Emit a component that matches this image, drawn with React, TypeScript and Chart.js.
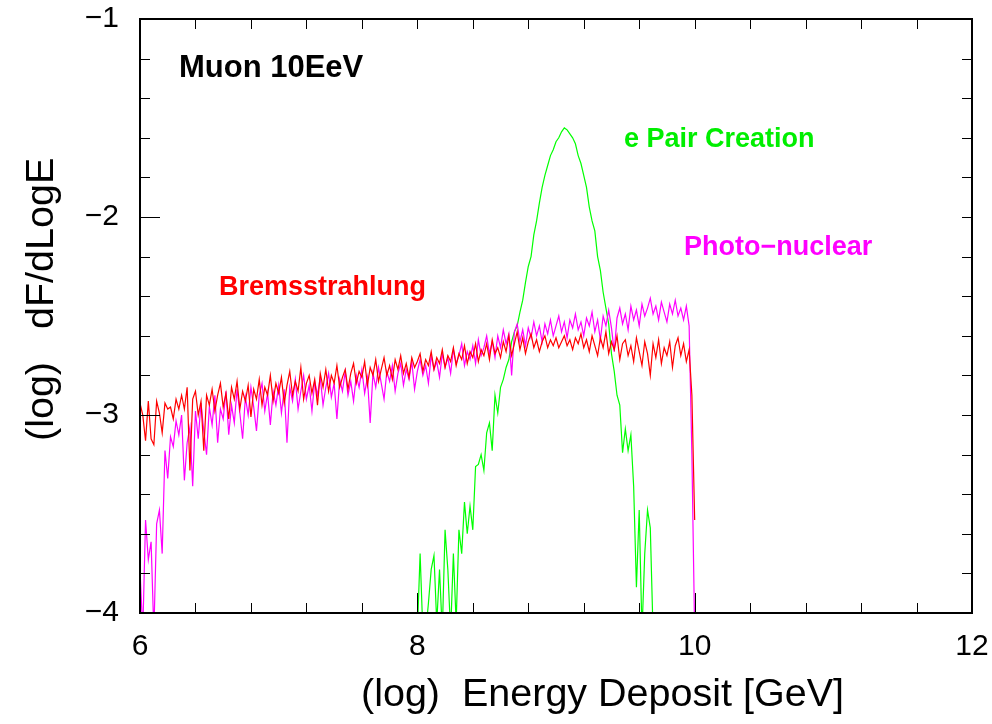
import { useEffect, useRef } from "react";
import { Chart, registerables } from "chart.js";

Chart.register(...registerables);

// Histogram binning in log10(E / GeV)
const LOG_E_START = 6.0;
const PAIR_LOG_E_START = 8.0;
const BIN_WIDTH = 0.02;

// Bremsstrahlung, log10(dF/dLogE), bins from 6.00 upward
const bremsY = [
  -2.94, -3.00, -3.13, -2.93, -3.12, -3.15, -2.93, -2.99, -3.09, -2.94,
  -2.97, -2.96, -3.02, -2.92, -2.97, -2.90, -2.97, -2.86, -3.28, -2.92,
  -2.88, -3.00, -2.93, -3.18, -2.90, -2.95, -2.87, -2.98, -2.90, -2.84,
  -2.96, -2.89, -3.02, -2.86, -2.92, -2.83, -2.97, -2.88, -2.93, -2.85,
  -3.01, -2.87, -2.92, -2.82, -2.95, -2.86, -2.90, -2.80, -2.93, -2.84,
  -2.89, -2.81, -2.94, -2.85, -2.78, -2.90, -2.83, -2.88, -2.76, -2.92,
  -2.84, -2.80, -2.89, -2.82, -2.95, -2.79, -2.86, -2.77, -2.88, -2.80,
  -2.84, -2.75, -2.86, -2.81, -2.77, -2.87, -2.79, -2.74, -2.84, -2.78,
  -2.81, -2.73, -2.85, -2.76, -2.80, -2.72, -2.83, -2.77, -2.71, -2.80,
  -2.75, -2.82, -2.72, -2.77, -2.70, -2.79, -2.74, -2.81, -2.71, -2.76,
  -2.73, -2.69, -2.78, -2.72, -2.75, -2.68, -2.77, -2.71, -2.74, -2.67,
  -2.76, -2.70, -2.73, -2.66, -2.75, -2.69, -2.72, -2.65, -2.74, -2.68,
  -2.71, -2.64, -2.73, -2.67, -2.70, -2.64, -2.72, -2.62, -2.69, -2.66,
  -2.71, -2.63, -2.68, -2.60, -2.70, -2.64, -2.58, -2.67, -2.61, -2.69,
  -2.63, -2.59, -2.66, -2.62, -2.68, -2.63, -2.60, -2.66, -2.62, -2.65,
  -2.61, -2.66, -2.63, -2.60, -2.65, -2.62, -2.67, -2.61, -2.64, -2.59,
  -2.66, -2.62, -2.68, -2.60, -2.65, -2.70, -2.61, -2.66, -2.58, -2.69,
  -2.63, -2.67, -2.60, -2.72, -2.64, -2.62, -2.70, -2.65, -2.73, -2.61,
  -2.68, -2.75, -2.63, -2.69, -2.80, -2.64, -2.71, -2.62, -2.74, -2.66,
  -2.70, -2.63, -2.76, -2.65, -2.61, -2.70, -2.64, -2.73, -2.67, -2.90,
  -3.53,
];

// Photo-nuclear, bins from 6.00 upward
const photoY = [
  -3.78, -4.10, -3.53, -3.73, -3.64, -4.10, -3.55, -3.48, -3.70, -3.18,
  -3.32, -3.11, -3.16, -3.03, -3.10, -3.00, -3.33, -3.14, -3.06, -3.36,
  -2.98, -3.12, -2.94, -3.08, -3.20, -2.96, -3.05, -2.90, -3.14, -2.97,
  -3.02, -2.88, -3.10, -2.95, -3.04, -2.87, -2.99, -3.12, -2.91, -3.00,
  -2.86, -2.96, -3.08, -2.90, -2.84, -2.98, -2.89, -3.05, -2.88, -2.95,
  -2.85, -2.99, -2.87, -3.14, -2.86, -2.93, -2.82, -2.97, -2.88, -2.80,
  -2.92, -2.85, -2.98, -2.83, -2.90, -2.81, -2.95, -2.86, -2.79, -2.91,
  -2.84, -3.02, -2.82, -2.88, -2.78, -2.90, -2.83, -2.93, -2.80, -2.86,
  -2.77, -2.89, -2.81, -3.04, -2.79, -2.86, -2.76, -2.84, -2.92, -2.78,
  -2.83, -2.75, -2.88, -2.79, -2.74, -2.85, -2.77, -2.82, -2.73, -2.87,
  -2.78, -2.72, -2.80, -2.75, -2.84, -2.70, -2.77, -2.73, -2.81, -2.69,
  -2.76, -2.71, -2.79, -2.67, -2.74, -2.70, -2.64, -2.75, -2.68, -2.72,
  -2.65, -2.74, -2.62, -2.70, -2.66, -2.60, -2.69, -2.63, -2.71, -2.60,
  -2.66, -2.57, -2.64, -2.59, -2.80, -2.58, -2.54, -2.63, -2.57, -2.65,
  -2.56, -2.61, -2.53, -2.60, -2.55, -2.63, -2.54, -2.59, -2.52, -2.60,
  -2.55, -2.50, -2.58, -2.53, -2.61, -2.52, -2.56, -2.49, -2.57, -2.53,
  -2.60, -2.51, -2.55, -2.48, -2.58, -2.52, -2.62, -2.50, -2.55, -2.47,
  -2.56, -2.68, -2.51, -2.46, -2.54, -2.49, -2.57, -2.45, -2.52, -2.47,
  -2.55, -2.44, -2.50, -2.46, -2.41, -2.49, -2.45, -2.52, -2.43, -2.48,
  -2.53, -2.44, -2.49, -2.42, -2.50, -2.46, -2.52, -2.45, -2.55, -3.20,
  -4.10,
];

// e+e- pair creation, bins from 8.00 upward
const pairY = [
  -4.10, -3.70, -4.10, -4.10, -3.95, -3.78, -3.71, -4.05, -3.78, -4.10,
  -3.58, -3.78, -4.10, -3.70, -4.05, -3.58, -3.70, -3.44, -3.60, -3.46,
  -3.58, -3.26, -3.25, -3.20, -3.28, -3.09, -3.04, -3.18, -2.90, -2.99,
  -2.86, -2.82, -2.76, -2.72, -2.63, -2.58, -2.55, -2.48, -2.42, -2.33,
  -2.25, -2.20, -2.09, -2.02, -1.93, -1.85, -1.79, -1.74, -1.69, -1.66,
  -1.62, -1.60, -1.57, -1.55, -1.56, -1.58, -1.60, -1.63, -1.69, -1.73,
  -1.79, -1.85, -1.95, -2.02, -2.07, -2.20, -2.27, -2.38, -2.46, -2.54,
  -2.69, -2.78, -2.90, -2.95, -3.19, -3.07, -3.18, -3.10, -3.36, -3.87,
  -3.48, -4.10, -3.70, -3.48, -3.57, -4.10,
];

const xTicks = [6, 8, 10, 12];
const yTicks = [-1, -2, -3, -4];
const X_MINOR = 0.4;
const Y_MINOR = 0.2;

const FONT = '"Liberation Sans", Arial, Helvetica, sans-serif';

const toPoints = (start: number, ys: number[]) =>
  ys.map((y, i) => ({ x: +(start + i * BIN_WIDTH).toFixed(3), y }));

const fmt = (v: number) => (v < 0 ? "\u2212" + Math.abs(v) : String(v));

type Note = { text: string; color: string; x: number; y: number; size: number };
const notes: Note[] = [
  { text: "Muon 10EeV", color: "#000000", x: 6.281, y: -1.293, size: 31 },
  { text: "e Pair Creation", color: "#00ee00", x: 9.49, y: -1.646, size: 27 },
  { text: "Photo\u2212nuclear", color: "#ff00ff", x: 9.923, y: -2.192, size: 27 },
  { text: "Bremsstrahlung", color: "#ff0000", x: 6.57, y: -2.394, size: 27 },
];

const framePlugin = {
  id: "frameAndText",
  afterDraw(chart: any) {
    const { ctx, chartArea: a, scales } = chart;
    const xs = scales.x;
    const ys = scales.y;
    ctx.save();

    // minor and major ticks on all four sides, pointing inward
    ctx.strokeStyle = "#000";
    ctx.lineWidth = 1;
    ctx.beginPath();
    for (let v = xs.min; v <= xs.max + 1e-9; v += X_MINOR) {
      const major = xTicks.some((t) => Math.abs(t - v) < 1e-6);
      const len = major ? 20 : 10;
      const px = Math.round(xs.getPixelForValue(v)) + 0.5;
      ctx.moveTo(px, a.bottom);
      ctx.lineTo(px, a.bottom - len);
      ctx.moveTo(px, a.top);
      ctx.lineTo(px, a.top + 10);
    }
    for (let v = ys.min; v <= ys.max + 1e-9; v += Y_MINOR) {
      const major = yTicks.some((t) => Math.abs(t - v) < 1e-6);
      const len = major ? 20 : 10;
      const py = Math.round(ys.getPixelForValue(v)) + 0.5;
      ctx.moveTo(a.left, py);
      ctx.lineTo(a.left + len, py);
      ctx.moveTo(a.right, py);
      ctx.lineTo(a.right - 10, py);
    }
    ctx.stroke();

    // frame
    ctx.lineWidth = 2;
    ctx.strokeRect(a.left, a.top, a.right - a.left, a.bottom - a.top);

    // tick labels
    ctx.fillStyle = "#000";
    ctx.font = `30px ${FONT}`;
    ctx.textAlign = "right";
    ctx.textBaseline = "middle";
    yTicks.forEach((t) => ctx.fillText(fmt(t), a.left - 21, ys.getPixelForValue(t)));
    ctx.textAlign = "center";
    ctx.textBaseline = "top";
    xTicks.forEach((t) => ctx.fillText(fmt(t), xs.getPixelForValue(t), a.bottom + 19));

    // axis titles
    ctx.font = `39.5px ${FONT}`;
    ctx.textAlign = "left";
    ctx.textBaseline = "alphabetic";
    ctx.fillText("(log)  Energy Deposit [GeV]", 361, 706);
    ctx.save();
    ctx.translate(53, 441);
    ctx.rotate(-Math.PI / 2);
    ctx.fillText("(log)   dF/dLogE", 0, 0);
    ctx.restore();

    // process labels
    notes.forEach((n) => {
      ctx.font = `bold ${n.size}px ${FONT}`;
      ctx.fillStyle = n.color;
      ctx.textAlign = "left";
      ctx.textBaseline = "alphabetic";
      ctx.fillText(n.text, xs.getPixelForValue(n.x), ys.getPixelForValue(n.y));
    });
    ctx.restore();
  },
};

export default function App() {
  const ref = useRef<HTMLCanvasElement | null>(null);

  useEffect(() => {
    if (!ref.current) return;
    const line = (label: string, data: { x: number; y: number }[], color: string) => ({
      label,
      data,
      borderColor: color,
      borderWidth: 1.2,
      pointRadius: 0,
      tension: 0,
      fill: false,
    });
    const chart = new Chart(ref.current, {
      type: "line",
      data: {
        datasets: [
          line("Bremsstrahlung", toPoints(LOG_E_START, bremsY), "#ff0000"),
          line("Photo-nuclear", toPoints(LOG_E_START, photoY), "#ff00ff"),
          line("e Pair Creation", toPoints(PAIR_LOG_E_START, pairY), "#00ff00"),
        ],
      },
      options: {
        animation: false,
        responsive: false,
        devicePixelRatio: 1,
        parsing: false as any,
        layout: { padding: { left: 140, right: 20, top: 19, bottom: 111 } },
        scales: {
          x: { type: "linear", min: 6, max: 12, display: false },
          y: { type: "linear", min: -4, max: -1, display: false },
        },
        plugins: { legend: { display: false }, tooltip: { enabled: false } },
      },
      plugins: [framePlugin],
    });
    return () => chart.destroy();
  }, []);

  return (
    <div style={{ position: "fixed", left: 0, top: 0, width: 992, height: 724, background: "#fff" }}>
      <canvas ref={ref} width={992} height={724} style={{ width: 992, height: 724 }} />
    </div>
  );
}
